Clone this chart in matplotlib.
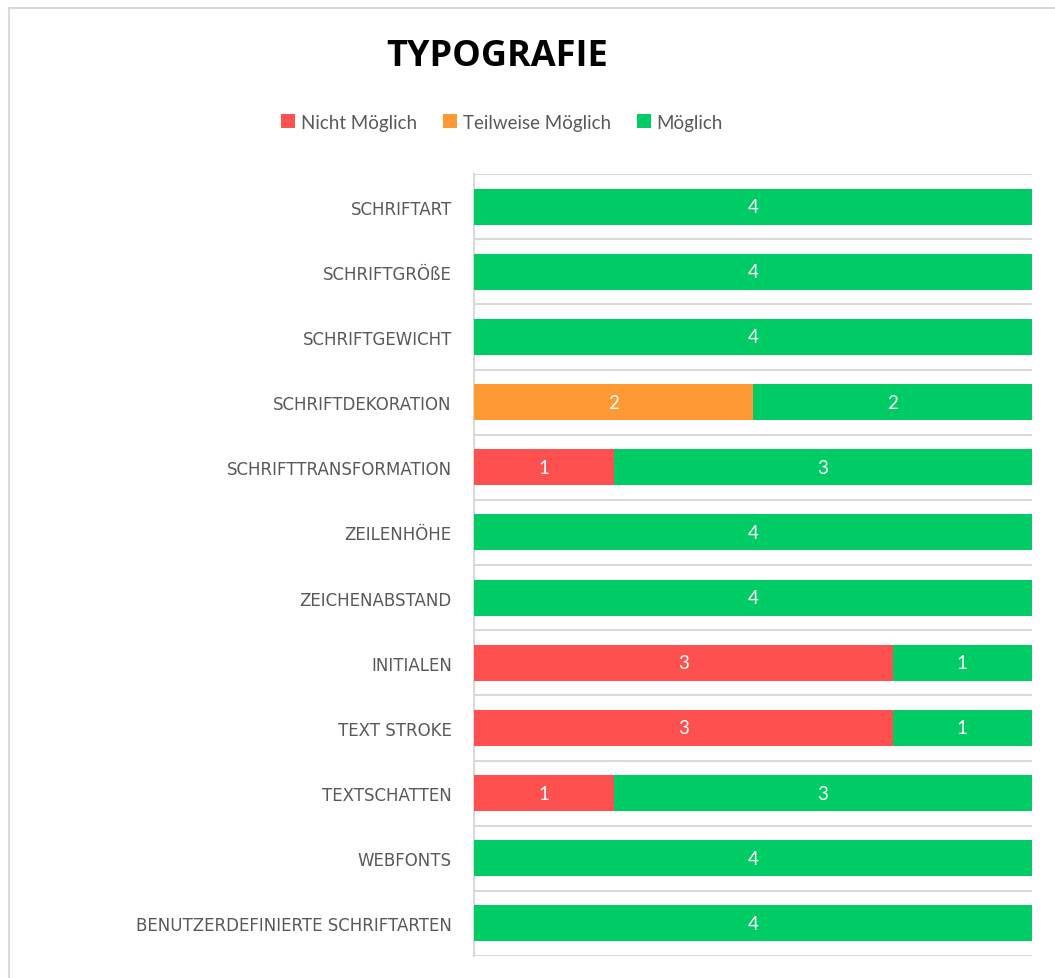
import matplotlib
matplotlib.use("Agg")
import matplotlib.pyplot as plt
from matplotlib.patches import Patch, Rectangle
import numpy as np

categories = [
    "SCHRIFTART", "SCHRIFTGRÖßE", "SCHRIFTGEWICHT", "SCHRIFTDEKORATION",
    "SCHRIFTTRANSFORMATION", "ZEILENHÖHE", "ZEICHENABSTAND", "INITIALEN",
    "TEXT STROKE", "TEXTSCHATTEN", "WEBFONTS", "BENUTZERDEFINIERTE SCHRIFTARTEN",
]
nicht_moeglich = [0, 0, 0, 0, 1, 0, 0, 3, 3, 1, 0, 0]
teilweise_moeglich = [0, 0, 0, 2, 0, 0, 0, 0, 0, 0, 0, 0]
moeglich = [4, 4, 4, 2, 3, 4, 4, 1, 1, 3, 4, 4]
series_names = ["Nicht Möglich", "Teilweise Möglich", "Möglich"]
colors = ["#FF5050", "#FF9933", "#00CC66"]

plt.rcParams["font.family"] = ["Lato", "DejaVu Sans"]

W, H = 1055, 979
fig = plt.figure(figsize=(W / 100, H / 100), dpi=100)

# outer chart border
fig.add_artist(Rectangle((9 / W, -0.1), 1.2, 1 - 9 / H + 0.1, transform=fig.transFigure,
                         fill=False, edgecolor="#D9D9D9", linewidth=1.5))

ax = fig.add_axes([474 / W, 1 - 957 / H, (1032 - 474) / W, (957 - 175) / H])
y = np.arange(len(categories))
left = np.zeros(len(categories))
for vals, name, c in zip([nicht_moeglich, teilweise_moeglich, moeglich], series_names, colors):
    vals = np.array(vals, dtype=float)
    bars = ax.barh(y, vals, left=left, height=0.55, color=c, label=name, zorder=3)
    for b, v in zip(bars, vals):
        if v > 0:
            ax.text(b.get_x() + b.get_width() / 2, b.get_y() + b.get_height() / 2, f"{int(v)}",
                    ha="center", va="center", color="white", fontsize=13.5, zorder=4)
    left += vals

ax.set_xlim(0, 4)
ax.set_ylim(len(categories) - 0.5, -0.5)
ax.set_yticks(y)
ax.set_yticklabels(categories, fontsize=12, color="#595959",
                   family=["DejaVu Sans"])
ax.set_yticks(np.arange(-0.5, len(categories)), minor=True)
ax.tick_params(axis="y", which="both", length=0, pad=16)
ax.set_xticks([])
ax.grid(axis="y", which="minor", color="#D9D9D9", linewidth=1.5, zorder=0)
for s in ["top", "right", "bottom"]:
    ax.spines[s].set_visible(False)
ax.spines["left"].set_color("#D9D9D9")
ax.spines["left"].set_linewidth(1.5)

fig.text(497 / W, 1 - 57 / H, "TYPOGRAFIE", ha="center", va="center",
         fontsize=26, fontweight="bold", color="#000000",
         family=["Open Sans", "DejaVu Sans"])

handles = [Patch(facecolor=c, edgecolor="none") for c in colors]
fig.legend(handles, series_names, loc="center", bbox_to_anchor=(502 / W, 1 - 123 / H),
           ncol=3, frameon=False, fontsize=13.5, labelcolor="#595959",
           handlelength=0.75, handleheight=0.75, handletextpad=0.3, columnspacing=1.4)

fig.savefig("out.png", dpi=100)
